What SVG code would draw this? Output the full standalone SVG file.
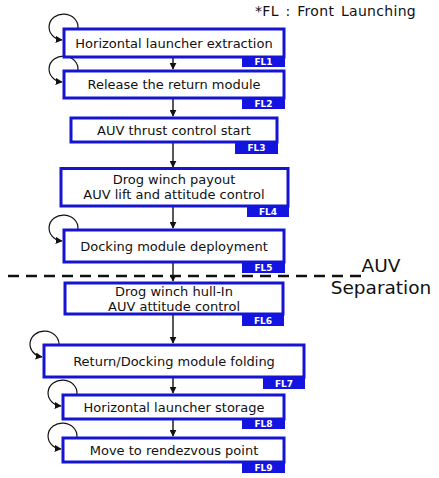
<svg xmlns="http://www.w3.org/2000/svg" width="439" height="478" viewBox="0 0 439 478">
<defs>
<style>
.box{fill:#fff;stroke:#1414d2;stroke-width:3}
.tab{fill:#1414e0}
.t{font-family:"DejaVu Sans","Noto Sans",sans-serif;font-size:13px;fill:#111;text-anchor:middle}
.tl{font-family:"DejaVu Sans","Noto Sans",sans-serif;font-size:9px;font-weight:bold;fill:#fff;text-anchor:middle}
.big{font-family:"DejaVu Sans","Noto Sans",sans-serif;font-size:18.5px;fill:#111;text-anchor:middle}
.c{fill:none;stroke:#111;stroke-width:1.4}
.loop{fill:none;stroke:#111;stroke-width:1.2}
</style>
<marker id="ah" viewBox="0 0 10 10" refX="9" refY="5" markerWidth="7" markerHeight="7" orient="auto" markerUnits="userSpaceOnUse">
<path d="M0,0 L10,5 L0,10 z" fill="#111"/>
</marker>
<marker id="la" viewBox="0 0 10 10" refX="9" refY="5" markerWidth="7" markerHeight="7" orient="auto" markerUnits="userSpaceOnUse">
<path d="M0,0 L10,5 L0,10 z" fill="#111"/>
</marker>
</defs>
<rect width="439" height="478" fill="#fff"/>
<text x="416" y="16" text-anchor="end" word-spacing="2" letter-spacing="0.3" style="font-family:'DejaVu Sans','Noto Sans',sans-serif;font-size:14px;fill:#111">*FL : Front Launching</text>

<g id="connectors">
<line class="c" x1="173" y1="57" x2="173" y2="69" marker-end="url(#ah)"/>
<line class="c" x1="173" y1="99" x2="173" y2="116" marker-end="url(#ah)"/>
<line class="c" x1="173" y1="143" x2="173" y2="167" marker-end="url(#ah)"/>
<line class="c" x1="173" y1="207" x2="173" y2="228" marker-end="url(#ah)"/>
<line class="c" x1="173" y1="263" x2="173" y2="281" marker-end="url(#ah)"/>
<line class="c" x1="173" y1="315" x2="173" y2="343" marker-end="url(#ah)"/>
<line class="c" x1="173" y1="378" x2="173" y2="393" marker-end="url(#ah)"/>
<line class="c" x1="173" y1="420" x2="173" y2="436" marker-end="url(#ah)"/>
<path class="loop" d="M78,28 A14.5,13 0 1 0 62,40" marker-end="url(#la)"/>
<path class="loop" d="M78,70 A14.5,13 0 1 0 62,82" marker-end="url(#la)"/>
<path class="loop" d="M78,229 A14.5,13 0 1 0 62,241" marker-end="url(#la)"/>
<path class="loop" d="M59,344 A14.5,13 0 1 0 42,357" marker-end="url(#la)"/>
<path class="loop" d="M77,394 A14.5,13 0 1 0 61,406" marker-end="url(#la)"/>
<path class="loop" d="M77,437 A14.5,13 0 1 0 61,449" marker-end="url(#la)"/>
</g>

<line x1="8" y1="276" x2="367" y2="276" stroke="#111" stroke-width="2.5" stroke-dasharray="11,7"/>
<text class="big" x="381" y="272">AUV</text>
<text class="big" x="381" y="294">Separation</text>

<g id="fl1">
<rect class="box" x="64" y="29" width="220" height="28"/>
<rect class="tab" x="242" y="57" width="43" height="10"/>
<text class="t" x="174" y="47.5">Horizontal launcher extraction</text>
<text class="tl" x="263.5" y="65">FL1</text>
</g>
<g id="fl2">
<rect class="box" x="64" y="71" width="220" height="27"/>
<rect class="tab" x="242" y="98" width="43" height="11"/>
<text class="t" x="174" y="89">Release the return module</text>
<text class="tl" x="263.5" y="107">FL2</text>
</g>
<g id="fl3">
<rect class="box" x="71" y="118" width="206" height="24"/>
<rect class="tab" x="235" y="142" width="43" height="12"/>
<text class="t" x="174" y="134.5">AUV thrust control start</text>
<text class="tl" x="256.5" y="151">FL3</text>
</g>
<g id="fl4">
<rect class="box" x="61" y="168.5" width="227" height="37.5"/>
<rect class="tab" x="247" y="206" width="42" height="11"/>
<text class="t" x="174" y="183.5">Drog winch payout</text>
<text class="t" x="174" y="199">AUV lift and attitude control</text>
<text class="tl" x="268" y="214.5">FL4</text>
</g>
<g id="fl5">
<rect class="box" x="64" y="230" width="220" height="32"/>
<rect class="tab" x="242" y="262" width="43" height="11"/>
<text class="t" x="174" y="250.5">Docking module deployment</text>
<text class="tl" x="263.5" y="270.5">FL5</text>
</g>
<g id="fl6">
<rect class="box" x="65" y="283" width="218" height="31"/>
<rect class="tab" x="242" y="314" width="42" height="12"/>
<text class="t" x="174" y="295.5">Drog winch hull-In</text>
<text class="t" x="174" y="311">AUV attitude control</text>
<text class="tl" x="263" y="323.5">FL6</text>
</g>
<g id="fl7">
<rect class="box" x="44" y="345" width="260" height="32"/>
<rect class="tab" x="263" y="377" width="42" height="12"/>
<text class="t" x="174" y="365.5">Return/Docking module folding</text>
<text class="tl" x="284" y="386.5">FL7</text>
</g>
<g id="fl8">
<rect class="box" x="63" y="395" width="221" height="24"/>
<rect class="tab" x="242" y="419" width="43" height="10"/>
<text class="t" x="174" y="411.5">Horizontal launcher storage</text>
<text class="tl" x="263.5" y="427">FL8</text>
</g>
<g id="fl9">
<rect class="box" x="63" y="438" width="221" height="24"/>
<rect class="tab" x="242" y="462" width="43" height="11"/>
<text class="t" x="174" y="454.5">Move to rendezvous point</text>
<text class="tl" x="263.5" y="470.5">FL9</text>
</g>
</svg>
